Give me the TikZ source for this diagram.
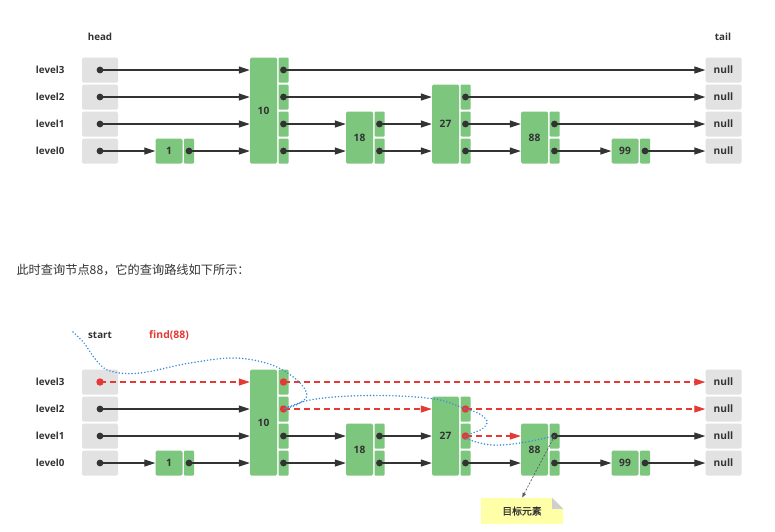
\documentclass[tikz,border=0pt]{standalone}
\usepackage{fontspec}
\setmainfont{Open Sans}
\newfontfamily\cjk{Noto Sans CJK SC}
\newfontfamily\cjkbold[FakeBold=1.2]{Noto Sans CJK SC}
\usetikzlibrary{arrows.meta,backgrounds}
\definecolor{cellgray}{HTML}{E2E2E2}
\definecolor{keygreen}{HTML}{7DC67E}
\definecolor{ink}{HTML}{333333}
\definecolor{findred}{HTML}{E53935}
\definecolor{routeblue}{HTML}{3B8EDC}
\definecolor{noteyellow}{HTML}{FFFFA8}
\definecolor{foldgray}{HTML}{CFCFCF}
% one skip list: #1 name prefix, #2 shift down
\newcommand\skiplist[2]{%
  \foreach \r in {0,...,3} {
    \node[lab, anchor=east] (#1l\r) at (68,#2+151-27*\r) {level\r};
    \node[cell] (#1h\r) at (100,#2+151-27*\r) {};
    \node[cell] (#1t\r) at (723.5,#2+151-27*\r) {null};
  }
  \foreach \v/\x/\k in {1/169/0,10/263.5/3,18/359.5/1,27/445.5/2,88/534.5/1,99/625/0} {
    \node[key, minimum height=25+27*\k] (#1n\v) at (\x,#2+151-13.5*\k) {\v};
    \foreach \r in {0,...,\k}
      \node[slot] (#1s\v r\r) at (\x+20,#2+151-27*\r) {};
  }
}
\begin{document}
\begin{tikzpicture}[x=1pt,y=-1pt,
  lab/.style={font=\bfseries\fontsize{9.8}{11}\selectfont, text=ink},
  cell/.style={fill=cellgray, rounded corners=1.5pt, minimum width=36pt, minimum height=25pt, inner sep=0pt, font=\bfseries\fontsize{10.2}{12}\selectfont, text=ink},
  key/.style={fill=keygreen, rounded corners=1.5pt, minimum width=27pt, inner sep=0pt, font=\bfseries\fontsize{10.2}{12}\selectfont, text=ink},
  slot/.style={fill=keygreen, rounded corners=1pt, minimum width=10pt, minimum height=25pt, inner sep=0pt},
  link/.style={draw=ink, line width=1.1pt, -{Triangle[length=11pt,width=7pt]}},
  hop/.style={draw=findred, line width=1.1pt, dash pattern=on 6pt off 4pt, -{Triangle[length=11pt,width=7pt]}},
  pt/.style={fill=ink}, hit/.style={fill=findred},
  route/.style={draw=routeblue, line width=1.7pt, line cap=round, dash pattern=on 0pt off 3.2pt}]
\path[use as bounding box] (0,0) rectangle (775,531);
\begin{scope}[on background layer]
  \fill[white] (0,0) rectangle (775,531);
\end{scope}

% first list
\node[lab] (head) at (100,37) {head};
\node[lab] (tail) at (723,37) {tail};
\skiplist{a}{0}
\foreach \p/\q in {h3/n10,h2/n10,h1/n10,h0/n1,s1r0/n10,s10r3/t3,s10r2/n27,s10r1/n18,s10r0/n18,
    s18r1/n27,s18r0/n27,s27r2/t2,s27r1/n88,s27r0/n88,s88r1/t1,s88r0/n99,s99r0/t0}
  \draw[link] (a\p.center) -- (a\p -| a\q.west);
\foreach \p in {h3,h2,h1,h0,s1r0,s10r3,s10r2,s10r1,s10r0,s18r1,s18r0,s27r2,s27r1,s27r0,s88r1,s88r0,s99r0}
  \fill[pt] (a\p.center) circle[radius=3.4];

\node[anchor=west, text=ink, font=\cjk\fontsize{12.2}{14}\selectfont] (intro) at (13,270) {此时查询节点88，它的查询路线如下所示：};

% second list, search for 88
\node[lab] (start) at (100,335) {start};
\node[lab, text=findred, font=\bfseries\fontsize{10.4}{12}\selectfont] (find) at (169,335) {find(88)};
\skiplist{b}{312}
\foreach \p/\q in {h2/n10,h1/n10,h0/n1,s1r0/n10,s10r1/n18,s10r0/n18,s18r1/n27,s18r0/n27,
    s27r0/n88,s88r1/t1,s88r0/n99,s99r0/t0}
  \draw[link] (b\p.center) -- (b\p -| b\q.west);
\foreach \p/\q in {h3/n10,s10r3/t3,s10r2/n27,s27r2/t2,s27r1/n88}
  \draw[hop] (b\p.center) -- (b\p -| b\q.west);
\foreach \p in {h2,h1,h0,s1r0,s10r1,s10r0,s18r1,s18r0,s27r0,s88r1,s88r0,s99r0}
  \fill[pt] (b\p.center) circle[radius=3.4];
\foreach \p in {h3,s10r3,s10r2,s27r2,s27r1}
  \fill[hit] (b\p.center) circle[radius=3.7];

\coordinate (walk) at (73,332);
\draw[route] plot[smooth, tension=0.6] coordinates {(walk) (84,343) (96,360) (110,371) (140,373)
  (190,363) (235,358) (272,365) (297,380) (307,395) (298,404) (bs10r2.center) (310,400) (350,396)
  (400,396) (440,400) (bs27r2.center) (478,413) (487,421) (482,429) (bs27r1.center) (470,440)
  (492,445) (520,443) (bs88r1.center)};

\node[minimum width=82pt, minimum height=26pt, inner sep=0pt, text=ink,
  font=\cjkbold\fontsize{9.8}{11}\selectfont] (goal) at (522,511) {目标元素};
\begin{scope}[on background layer]
  \fill[noteyellow] (goal.south west) -- (goal.north west) -- ([xshift=-11pt]goal.north east)
    -- ([yshift=-11pt]goal.north east) -- (goal.south east) -- cycle;
  \fill[foldgray] ([xshift=-11pt]goal.north east) -- ([xshift=-11pt,yshift=-11pt]goal.north east)
    -- ([yshift=-11pt]goal.north east) -- cycle;
\end{scope}
\draw[draw=ink!80, line width=0.7pt, dash pattern=on 2pt off 1.5pt, -{Latex[length=5pt,width=4pt]}]
  (bs88r1.center) -- (goal.north);
\end{tikzpicture}
\end{document}
